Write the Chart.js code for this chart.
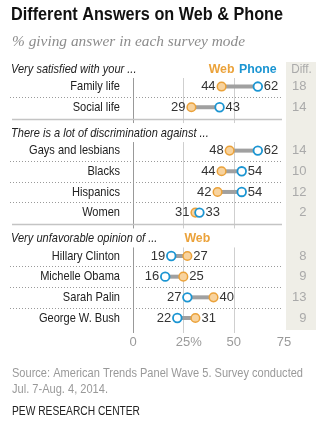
<!DOCTYPE html>
<html>
<head>
<meta charset="utf-8">
<title>Different Answers on Web & Phone</title>
<script src="https://cdn.jsdelivr.net/npm/chart.js@4.4.1/dist/chart.umd.min.js"></script>
<style>
  html, body { margin: 0; padding: 0; background: #fff; }
  #chart { display: block; }
</style>
</head>
<body>
<canvas id="chart" width="332" height="428"></canvas>
<script>
// Survey results, web vs phone
const groups = [
    'Very satisfied with your ...',
    'There is a lot of discrimination against ...',
    'Very unfavorable opinion of ...'
];
const categories = ['Family life', 'Social life', 'Gays and lesbians', 'Blacks', 'Hispanics',
    'Women', 'Hillary Clinton', 'Michelle Obama', 'Sarah Palin', 'George W. Bush'];
const groupOf = [0, 0, 1, 1, 1, 1, 2, 2, 2, 2];
const webValues = [44, 29, 48, 44, 42, 31, 27, 25, 40, 31];
const phoneValues = [62, 43, 62, 54, 54, 33, 19, 16, 27, 22];
const diffValues = [18, 14, 14, 10, 12, 2, 8, 9, 13, 9];
const xTicks = [0, 25, 50, 75];

const FONT = "'Liberation Sans', Arial, sans-serif";
const SERIF = "'Liberation Serif', 'DejaVu Serif', serif";
const WEB_COLOR = '#eba23a';
const WEB_FILL = '#f8d39e';
const PHONE_COLOR = '#1b95d2';
const CONDENSE = 0.85;

// Row layout (in row units): header, then rows one unit apart, extra gap before next header
const rowPos = [];
const headerPos = [];
let pos = 0;
let lastGroup = -1;
categories.forEach((c, i) => {
    if (groupOf[i] !== lastGroup) {
        if (lastGroup >= 0) pos += 1.25;
        headerPos.push(pos);
        pos += 0.85;
        lastGroup = groupOf[i];
    } else {
        pos += 1;
    }
    rowPos.push(pos);
});

// pixel frame of the plot
const AREA_TOP = 62, AREA_BOTTOM = 333, FIRST_Y = 69, LAST_Y = 318;
const unit = (LAST_Y - FIRST_Y) / rowPos[rowPos.length - 1];
const yMin = (AREA_TOP - FIRST_Y) / unit;
const yMax = (AREA_BOTTOM - FIRST_Y) / unit;

function drawText(ctx, str, x, y, opts) {
    ctx.save();
    ctx.font = opts.font;
    ctx.fillStyle = opts.color || '#222';
    ctx.textAlign = opts.align || 'left';
    ctx.textBaseline = opts.baseline || 'middle';
    let sx = opts.sx || 1;
    if (opts.width) sx = opts.width / ctx.measureText(str).width;
    ctx.translate(x, y);
    ctx.scale(sx, 1);
    ctx.fillText(str, 0, 0);
    ctx.restore();
}

const decorPlugin = {
    id: 'decor',
    beforeDatasetsDraw(chart) {
        const ctx = chart.ctx;
        const x = chart.scales.x, y = chart.scales.y;

        // Diff. column
        ctx.fillStyle = '#efeee7';
        ctx.fillRect(286, AREA_TOP, 30, 268);

        // vertical grid lines, broken at each group header
        headerPos.forEach((h, gi) => {
            const top = y.getPixelForValue(h) + 9;
            const bottom = gi < headerPos.length - 1 ? y.getPixelForValue(headerPos[gi + 1]) - 10 : AREA_BOTTOM;
            xTicks.slice(0, 3).forEach(t => {
                const px = Math.round(x.getPixelForValue(t)) + 0.5;
                ctx.strokeStyle = t === 0 ? '#999' : '#cfcfcf';
                ctx.lineWidth = 1;
                ctx.beginPath();
                ctx.moveTo(px, top);
                ctx.lineTo(px, bottom);
                ctx.stroke();
            });
        });

        // solid separators between groups
        headerPos.slice(1).forEach(h => {
            const py = Math.round(y.getPixelForValue(h) - 14) + 0.5;
            ctx.strokeStyle = '#c4c4c4';
            ctx.lineWidth = 1.5;
            ctx.beginPath();
            ctx.moveTo(12, py);
            ctx.lineTo(282, py);
            ctx.stroke();
        });

        // dotted separators between rows of a group
        ctx.save();
        ctx.setLineDash([1, 2]);
        ctx.strokeStyle = '#9a9a9a';
        ctx.lineWidth = 1;
        for (let i = 1; i < categories.length; i++) {
            if (groupOf[i] !== groupOf[i - 1]) continue;
            const py = Math.round(y.getPixelForValue((rowPos[i] + rowPos[i - 1]) / 2)) + 0.5;
            ctx.beginPath();
            ctx.moveTo(10, py);
            ctx.lineTo(283, py);
            ctx.stroke();
        }
        ctx.restore();
    },
    afterDatasetsDraw(chart) {
        const ctx = chart.ctx;
        const y = chart.scales.y;
        const webMeta = chart.getDatasetMeta(1);
        const phoneMeta = chart.getDatasetMeta(0);
        const numFont = '13px ' + FONT;

        categories.forEach((c, i) => {
            const py = y.getPixelForValue(rowPos[i]);
            drawText(ctx, c, 120, py, { font: '13px ' + FONT, color: '#222', align: 'right', sx: CONDENSE });

            const wx = webMeta.data[i].x, px = phoneMeta.data[i].x;
            const lo = webValues[i] <= phoneValues[i] ? [wx, webValues[i]] : [px, phoneValues[i]];
            const hi = webValues[i] <= phoneValues[i] ? [px, phoneValues[i]] : [wx, webValues[i]];
            drawText(ctx, String(lo[1]), lo[0] - 6, py, { font: numFont, color: '#333', align: 'right' });
            drawText(ctx, String(hi[1]), hi[0] + 6, py, { font: numFont, color: '#333', align: 'left' });

            drawText(ctx, String(diffValues[i]), 306.5, py, { font: numFont, color: '#aaa', align: 'right' });
        });

        // group headers
        headerPos.forEach((h, gi) => {
            drawText(ctx, groups[gi], 11, y.getPixelForValue(h), { font: 'italic 13px ' + FONT, color: '#222', sx: CONDENSE });
        });

        // Web / Phone keys
        const hy = y.getPixelForValue(headerPos[0]);
        drawText(ctx, 'Web', webMeta.data[0].x, hy, { font: 'bold 13px ' + FONT, color: WEB_COLOR, align: 'center', sx: 0.95 });
        drawText(ctx, 'Phone', phoneMeta.data[0].x, hy, { font: 'bold 13px ' + FONT, color: PHONE_COLOR, align: 'center', sx: 0.95 });
        drawText(ctx, 'Diff.', 301.5, hy, { font: '13px ' + FONT, color: '#aaa', align: 'center', sx: 0.9 });
        const first3 = groupOf.indexOf(2);
        drawText(ctx, 'Web', webMeta.data[first3].x + 10, y.getPixelForValue(headerPos[2]), { font: 'bold 13px ' + FONT, color: WEB_COLOR, align: 'center', sx: 0.95 });
    },
    afterDraw(chart) {
        const ctx = chart.ctx;
        drawText(ctx, 'Different Answers on Web & Phone', 11, 20, { font: 'bold 19px ' + FONT, color: '#111', baseline: 'alphabetic', width: 272 });
        drawText(ctx, '% giving answer in each survey mode', 12, 46, { font: 'italic 15px ' + SERIF, color: '#8c8c8c', baseline: 'alphabetic', width: 233 });
        drawText(ctx, 'Source: American Trends Panel Wave 5. Survey conducted', 12, 377, { font: '12.5px ' + FONT, color: '#999', baseline: 'alphabetic', width: 291 });
        drawText(ctx, 'Jul. 7-Aug. 4, 2014.', 12, 393, { font: '12.5px ' + FONT, color: '#999', baseline: 'alphabetic', width: 96 });
        drawText(ctx, 'PEW RESEARCH CENTER', 12, 415, { font: '12.5px ' + FONT, color: '#222', baseline: 'alphabetic', width: 128 });
    }
};

// connector segments, one per row
const connectors = categories.map((c, i) => ({
    type: 'scatter',
    showLine: true,
    data: [{ x: webValues[i], y: rowPos[i] }, { x: phoneValues[i], y: rowPos[i] }],
    borderColor: '#a0a0a0',
    borderWidth: 4,
    pointRadius: 0,
    order: 2,
    clip: false
}));

new Chart(document.getElementById('chart').getContext('2d'), {
    type: 'scatter',
    data: {
        datasets: [
            {
                label: 'Phone',
                data: phoneValues.map((v, i) => ({ x: v, y: rowPos[i] })),
                pointRadius: 4.3,
                pointBackgroundColor: '#fff',
                pointBorderColor: PHONE_COLOR,
                pointBorderWidth: 1.8,
                order: 0,
                clip: false
            },
            {
                label: 'Web',
                data: webValues.map((v, i) => ({ x: v, y: rowPos[i] })),
                pointRadius: 4.3,
                pointBackgroundColor: WEB_FILL,
                pointBorderColor: WEB_COLOR,
                pointBorderWidth: 1.5,
                order: 1,
                clip: false
            },
            ...connectors
        ]
    },
    plugins: [decorPlugin],
    options: {
        responsive: false,
        animation: false,
        devicePixelRatio: 1,
        layout: {
            padding: { left: 133, right: 48, top: AREA_TOP, bottom: 428 - AREA_BOTTOM - 20 }
        },
        scales: {
            x: {
                type: 'linear',
                min: 0,
                max: 75,
                afterBuildTicks: scale => { scale.ticks = xTicks.map(v => ({ value: v })); },
                afterFit: scale => { scale.height = 20; },
                grid: { display: false, drawTicks: false },
                border: { display: false },
                ticks: {
                    autoSkip: false,
                    maxRotation: 0,
                    padding: 2,
                    color: '#9a9a9a',
                    font: { size: 13, family: FONT },
                    callback: v => v === 25 ? '   25%' : String(v)
                }
            },
            y: {
                type: 'linear',
                display: false,
                reverse: true,
                min: yMin,
                max: yMax
            }
        },
        plugins: {
            legend: { display: false },
            tooltip: { enabled: false }
        }
    }
});
</script>
</body>
</html>
